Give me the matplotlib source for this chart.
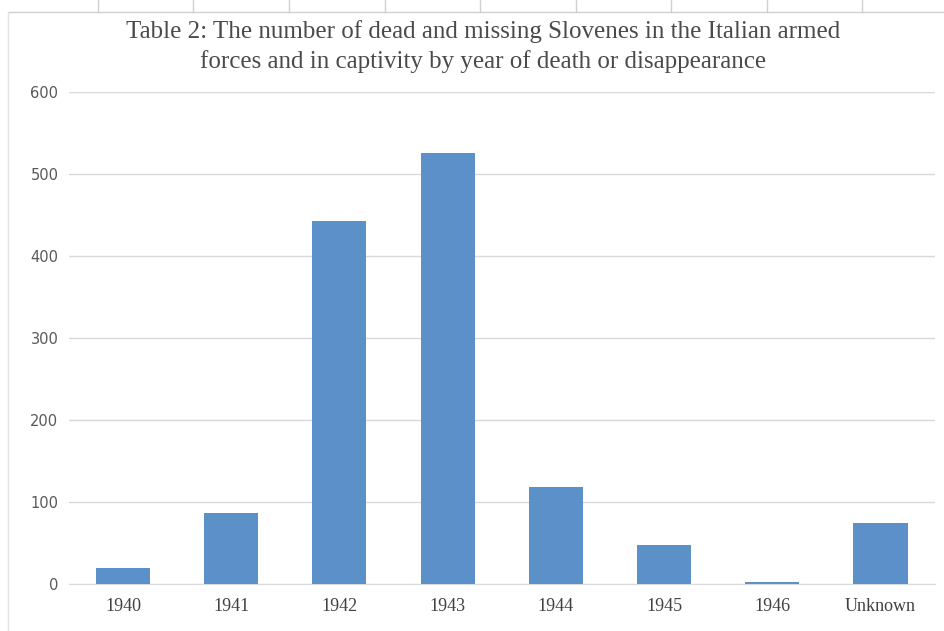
import matplotlib.pyplot as plt
from matplotlib.lines import Line2D

# data
categories = ["1940", "1941", "1942", "1943", "1944", "1945", "1946", "Unknown"]
counts = [20, 87, 443, 526, 118, 48, 2, 74]
y_ticks = [0, 100, 200, 300, 400, 500, 600]

title = ("Table 2: The number of dead and missing Slovenes in the Italian armed\n"
         "forces and in captivity by year of death or disappearance")


def main():
    fig = plt.figure(figsize=(9.44, 6.31), dpi=100)
    ax = fig.add_axes([0.073, 0.0745, 0.917, 0.7795])

    x = range(len(categories))
    ax.bar(x, counts, width=0.5, color="#5b90c8", zorder=3)

    ax.set_xlim(-0.5, len(categories) - 0.5)
    ax.set_ylim(0, 600)
    ax.set_yticks(y_ticks)
    ax.set_yticklabels([str(v) for v in y_ticks], fontsize=10.5, color="#595959",
                       family="DejaVu Sans")
    ax.set_xticks(list(x))
    ax.set_xticklabels(categories, fontsize=13, color="#404040",
                       family="Liberation Serif")
    ax.tick_params(axis="both", length=0)
    ax.tick_params(axis="y", pad=7.5)
    ax.tick_params(axis="x", pad=10)

    ax.grid(axis="y", color="#d9d9d9", linewidth=1, zorder=0)
    for side in ["top", "right", "left"]:
        ax.spines[side].set_visible(False)
    ax.spines["bottom"].set_color("#d9d9d9")

    fig.text(0.512, 0.968, title, ha="center", va="top", fontsize=18,
             color="#4a4a4a", family="Liberation Serif", linespacing=1.38)

    # faint page frame from the scan
    fig.add_artist(Line2D([0.01, 1.0], [0.981, 0.981], color="#d0d0d0", lw=1))
    fig.add_artist(Line2D([0.0085, 0.0085], [0.0, 0.981], color="#e4e4e4", lw=1))
    for px in [98, 193, 289, 385, 480, 576, 671, 767, 862]:
        fig.add_artist(Line2D([px / 944, px / 944], [0.981, 1.0], color="#d0d0d0", lw=1))

    fig.savefig("out.png", dpi=100)


if __name__ == "__main__":
    main()
